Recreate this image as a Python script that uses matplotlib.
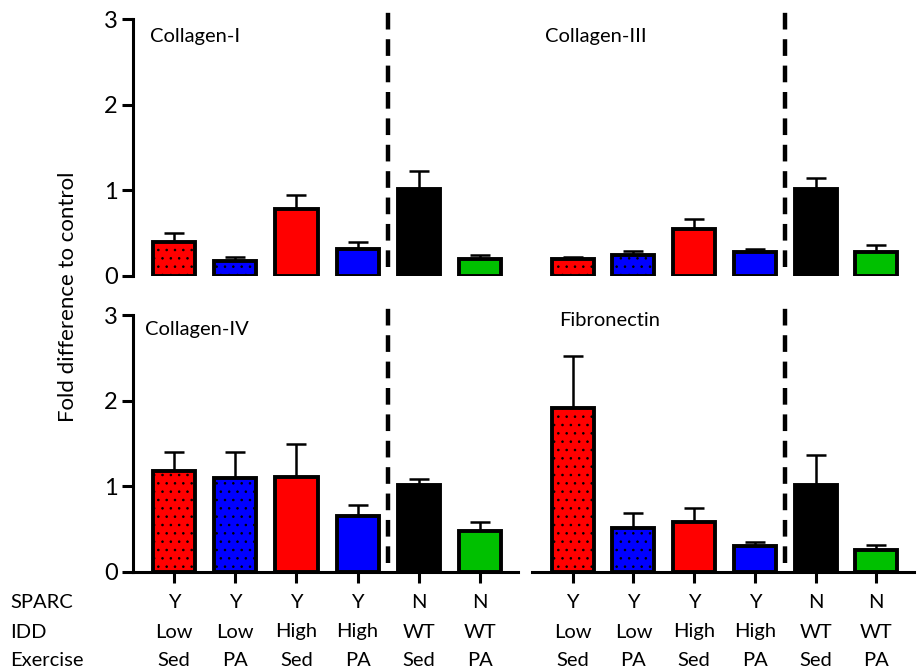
import numpy as np
import matplotlib
matplotlib.use("Agg")
import matplotlib.pyplot as plt
from matplotlib.transforms import blended_transform_factory

plt.rcParams['font.family'] = ['Lato', 'DejaVu Sans']
plt.rcParams['hatch.color'] = 'black'
plt.rcParams['hatch.linewidth'] = 0.6
plt.rcParams['lines.scale_dashes'] = False

# groups
sparc = ['Y', 'Y', 'Y', 'Y', 'N', 'N']
idd = ['Low', 'Low', 'High', 'High', 'WT', 'WT']
exercise = ['Sed', 'PA', 'Sed', 'PA', 'Sed', 'PA']
bar_colours = ['#ff0000', '#0000ff', '#ff0000', '#0000ff', '#000000', '#00c000']
bar_hatch = ['..', '..', None, None, None, None]

# fold difference (mean) and upper error for each panel
col1_mean = [0.40, 0.175, 0.78, 0.31, 1.02, 0.20]
col1_err = [0.10, 0.05, 0.165, 0.09, 0.20, 0.04]
col3_mean = [0.195, 0.24, 0.55, 0.285, 1.01, 0.285]
col3_err = [0.025, 0.05, 0.12, 0.035, 0.13, 0.075]
col4_mean = [1.18, 1.10, 1.11, 0.65, 1.01, 0.48]
col4_err = [0.22, 0.30, 0.38, 0.13, 0.08, 0.10]
fib_mean = [1.91, 0.51, 0.58, 0.30, 1.02, 0.26]
fib_err = [0.61, 0.18, 0.17, 0.05, 0.35, 0.05]

panels = [
    ('Collagen-I', col1_mean, col1_err),
    ('Collagen-III', col3_mean, col3_err),
    ('Collagen-IV', col4_mean, col4_err),
    ('Fibronectin', fib_mean, fib_err),
]
title_pos = [(0.044, 0.93), (0.034, 0.93), (0.031, 0.945), (0.07, 0.98)]

W, H = 920, 671
fig = plt.figure(figsize=(W / 100, H / 100), dpi=100)

left_x, left_w = 133 / W, 385 / W
right_x, right_w = 532 / W, 382 / W
top_y, bot_y, ph = 1 - 276 / H, 1 - 572 / H, 257 / H
rects = [(left_x, top_y, left_w, ph), (right_x, top_y, right_w, ph),
         (left_x, bot_y, left_w, ph), (right_x, bot_y, right_w, ph)]

x = np.arange(len(sparc))
axes = []
for idx, (name, mean, err) in enumerate(panels):
    ax = fig.add_axes(rects[idx])
    axes.append(ax)
    is_left = idx % 2 == 0
    is_bottom = idx >= 2
    ax.errorbar(x, mean, yerr=[np.zeros(len(err)), err], fmt='none', ecolor='black',
                elinewidth=1.8, capsize=7, capthick=1.8, zorder=1)
    for i in range(len(x)):
        ax.bar(x[i], mean[i], width=0.69, color=bar_colours[i], edgecolor='black',
               linewidth=2.8, hatch=bar_hatch[i], zorder=2)
    ax.plot([3.5, 3.5], [0.1, 3.08], color='black', lw=3.2, dashes=(12, 7),
            clip_on=False, zorder=3)
    ax.set_ylim(0, 3)
    ax.set_xlim(-0.67, 5.62)
    for s in ['top', 'right']:
        ax.spines[s].set_visible(False)
    ax.spines['left'].set_visible(is_left)
    ax.spines['bottom'].set_visible(is_bottom)
    ax.spines['left'].set_linewidth(2.2)
    ax.spines['bottom'].set_linewidth(2.2)
    if is_left:
        ax.set_yticks([0, 1, 2, 3])
        ax.tick_params(axis='y', length=8, width=2.2, labelsize=17, pad=3)
    else:
        ax.set_yticks([])
    if is_bottom:
        ax.set_xticks(x)
        ax.set_xticklabels([])
        ax.tick_params(axis='x', length=8, width=2.2)
    else:
        ax.set_xticks([])
    ax.text(title_pos[idx][0], title_pos[idx][1], name, transform=ax.transAxes,
            fontsize=14.5, ha='left', va='center')

# group label rows under the bottom panels
row_y = [1 - 602 / H, 1 - 632 / H, 1 - 661 / H]
rows = [sparc, idd, exercise]
for ax in axes[2:]:
    tr = blended_transform_factory(ax.transData, fig.transFigure)
    for ry, labels in zip(row_y, rows):
        for i, lab in enumerate(labels):
            ax.text(x[i], ry, lab, transform=tr, ha='center', va='center', fontsize=14.5)
for ry, name in zip(row_y, ['SPARC', 'IDD', 'Exercise']):
    fig.text(10 / W, ry, name, ha='left', va='center', fontsize=14.5)

fig.text(68 / W, 1 - 297 / H, 'Fold difference to control', rotation=90,
         ha='center', va='center', fontsize=16)

fig.savefig('out.png', dpi=100)
